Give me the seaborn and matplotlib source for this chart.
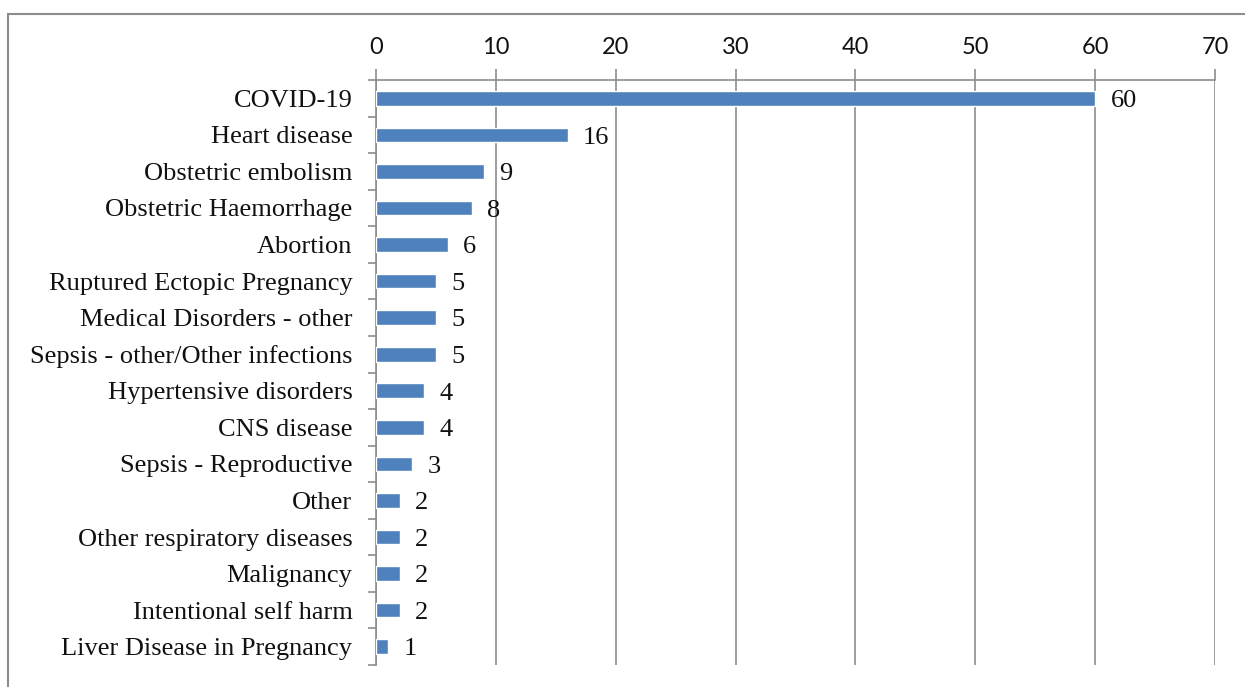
import matplotlib
matplotlib.use("Agg")
import matplotlib.pyplot as plt
from matplotlib.patches import Rectangle
from matplotlib.ticker import FixedLocator
import seaborn as sns
import pandas as pd

causes = [
    "COVID-19",
    "Heart disease",
    "Obstetric embolism",
    "Obstetric Haemorrhage",
    "Abortion",
    "Ruptured Ectopic Pregnancy",
    "Medical Disorders - other",
    "Sepsis - other/Other infections",
    "Hypertensive disorders",
    "CNS disease",
    "Sepsis - Reproductive",
    "Other",
    "Other respiratory diseases",
    "Malignancy",
    "Intentional self harm",
    "Liver Disease in Pregnancy",
]
deaths = [60, 16, 9, 8, 6, 5, 5, 5, 4, 4, 3, 2, 2, 2, 2, 1]
x_ticks = [0, 10, 20, 30, 40, 50, 60, 70]

df = pd.DataFrame({"cause": causes, "deaths": deaths})

sns.set_theme(style="white")
W, H = 1245, 687
fig = plt.figure(figsize=(W / 100, H / 100), dpi=100)

# outer chart frame
fig.patches.append(Rectangle((8 / W, -0.1), 1.2, (H - 14) / H + 0.1,
                             transform=fig.transFigure, fill=False,
                             edgecolor="#8c8c8c", linewidth=1.5, zorder=0))

left, right, top, bottom = 376, 1215, 80, 665
ax = fig.add_axes([left / W, 1 - bottom / H, (right - left) / W, (bottom - top) / H])

grid_c = "#8c8c8c"
sns.barplot(data=df, y="cause", x="deaths", orient="h", color="#4F81BD",
            saturation=1, width=0.4, ax=ax, zorder=3)

ax.set_xlim(0, 70)
ax.set_ylim(len(causes) - 0.5, -0.5)
ax.set_xticks(x_ticks)
ax.xaxis.tick_top()
ax.xaxis.set_label_position("top")
ax.set_xlabel("")
ax.set_ylabel("")
ax.grid(axis="x", color=grid_c, linewidth=1.2, zorder=0)
ax.grid(axis="y", visible=False)
for s in ["right", "bottom"]:
    ax.spines[s].set_visible(False)
for s in ["top", "left"]:
    ax.spines[s].set_color(grid_c)
    ax.spines[s].set_linewidth(1.2)

ax.tick_params(axis="x", which="major", top=True, bottom=False, length=8,
               width=1.2, color=grid_c, pad=8, labelsize=17)
for lbl in ax.get_xticklabels():
    lbl.set_family("Lato")
    lbl.set_color("#111111")

ax.tick_params(axis="y", which="major", left=False, length=0, pad=17, labelsize=19)
ax.yaxis.set_minor_locator(FixedLocator([i + 0.5 for i in range(-1, len(causes))]))
ax.tick_params(axis="y", which="minor", left=True, length=6, width=1.2, color=grid_c)
for lbl in ax.get_yticklabels():
    lbl.set_family("Liberation Serif")
    lbl.set_color("#111111")

for i, v in enumerate(deaths):
    ax.annotate(str(v), xy=(v, i), xytext=(11, -2), textcoords="offset points",
                ha="left", va="center", fontsize=19, family="Liberation Serif",
                color="#111111")

fig.savefig("out.png", dpi=100)
